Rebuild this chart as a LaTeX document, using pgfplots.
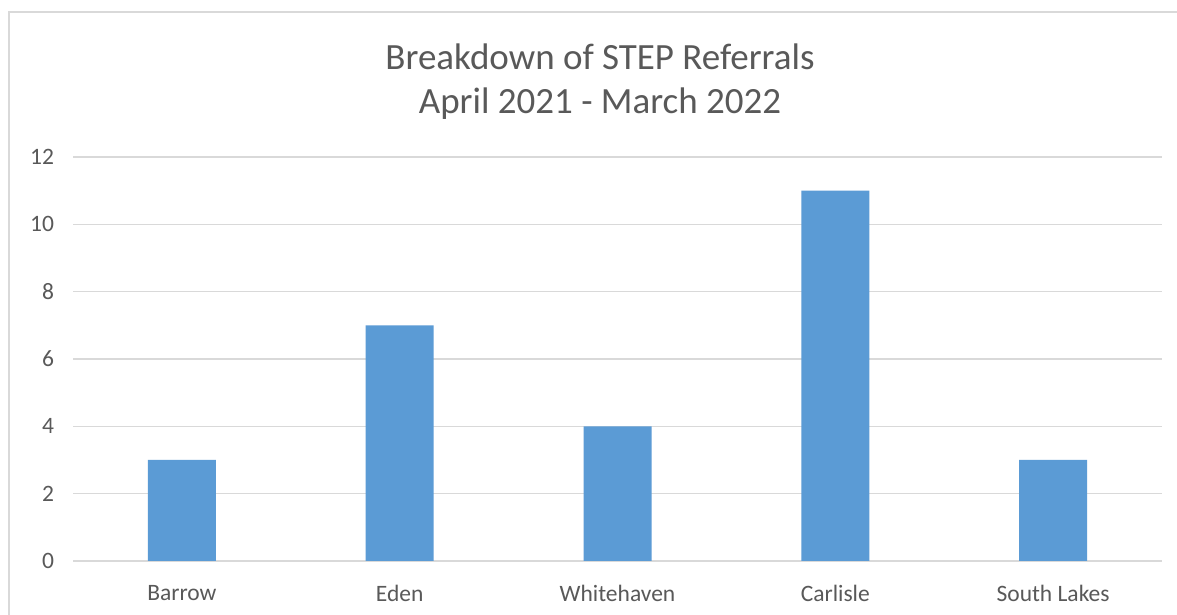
\documentclass[border=0pt]{standalone}
\usepackage{pgfplots}
\pgfplotsset{compat=1.18}
\usepackage{fontspec}
\setmainfont{Carlito}
\definecolor{barblue}{HTML}{5B9BD5}
\definecolor{gridgray}{HTML}{D9D9D9}
\definecolor{txtgray}{HTML}{595959}
\begin{document}
\begin{tikzpicture}
\fill[white] (0,0) rectangle (588.5pt,307.5pt);
\useasboundingbox (0,0) rectangle (588.5pt,307.5pt);
\draw[gridgray, line width=0.75pt] (4.5pt,0pt) -- (4.5pt,301.5pt) -- (588.5pt,301.5pt);
\node[txtgray, font=\fontsize{18.5}{22}\selectfont] at (300pt,279pt) {Breakdown of STEP Referrals};
\node[txtgray, font=\fontsize{18.5}{22}\selectfont] at (300pt,255.5pt) {April 2021 - March 2022};
\begin{axis}[
  at={(36.5pt,27pt)}, anchor=south west,
  scale only axis, width=544.5pt, height=202pt,
  xmin=-0.5, xmax=4.5, ymin=0, ymax=12,
  ytick={0,2,...,12},
  xtick=data,
  xticklabels={Barrow,Eden,Whitehaven,Carlisle,South Lakes},
  axis line style={draw=none},
  major tick length=0pt,
  ymajorgrids, grid style={gridgray, line width=0.75pt},
  tick label style={txtgray, font=\fontsize{11.75}{14}\selectfont},
  /pgf/number format/assume math mode=true,
  yticklabel style={xshift=-6pt},
  xticklabel style={yshift=-8.5pt},
  clip=false,
]
\addplot[ybar, bar width=34pt, fill=barblue, draw=none] coordinates {(0,3) (1,7) (2,4) (3,11) (4,3)};
\end{axis}
\end{tikzpicture}
\end{document}
